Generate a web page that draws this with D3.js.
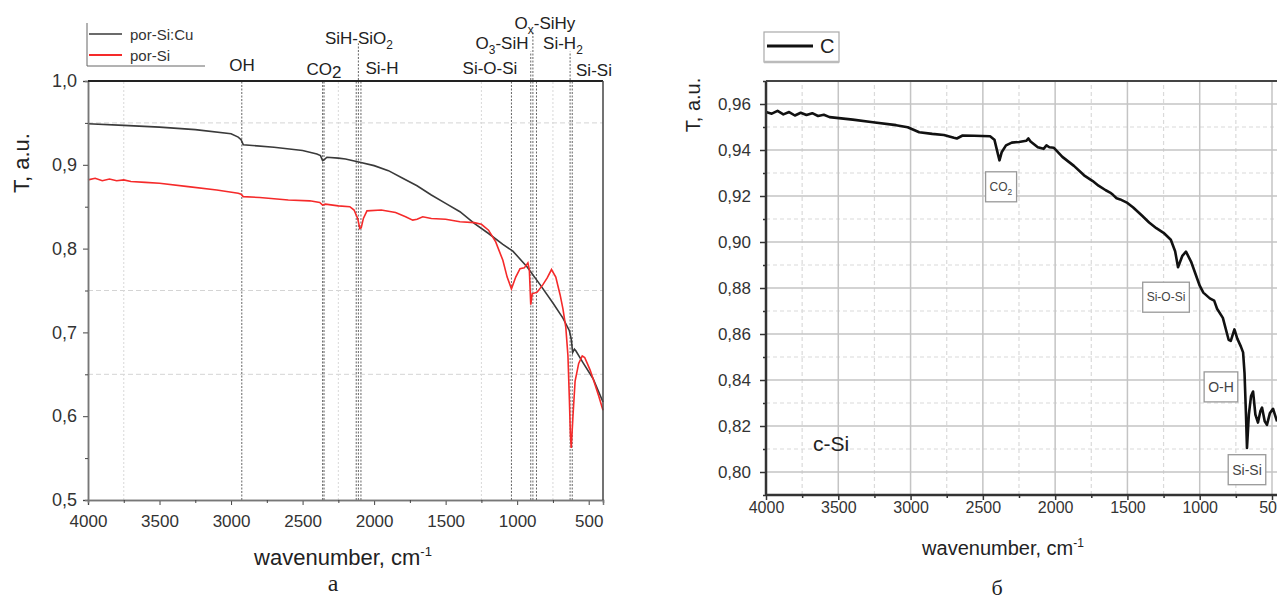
<!DOCTYPE html>
<html>
<head>
<meta charset="utf-8">
<script src="https://cdn.jsdelivr.net/npm/d3@7"></script>
<style>
  body { margin: 0; background: #fff; }
  svg { display: block; font-family: "Liberation Sans", Arial, sans-serif; }
  .tick text { fill: #333; }
</style>
</head>
<body>
<svg id="chart" width="1277" height="601"></svg>
<script>
// ---- panel a : por-Si:Cu / por-Si ----
var cuWave = [4000, 3750, 3500, 3250, 3000, 2950, 2930, 2915, 2850, 2700, 2500, 2400, 2375, 2360, 2350, 2330, 2250, 2200, 2100, 2000, 1900, 1800, 1700, 1600, 1500, 1400, 1300, 1200, 1100, 1030, 930, 840, 750, 680, 635, 622, 612, 600, 590, 540, 470, 400];
var cuT = [0.949, 0.947, 0.945, 0.942, 0.937, 0.933, 0.930, 0.924, 0.923, 0.921, 0.917, 0.913, 0.911, 0.905, 0.906, 0.909, 0.908, 0.907, 0.903, 0.899, 0.893, 0.884, 0.875, 0.864, 0.854, 0.844, 0.830, 0.818, 0.805, 0.797, 0.778, 0.757, 0.735, 0.717, 0.702, 0.692, 0.676, 0.680, 0.678, 0.664, 0.645, 0.617];

var siWave = [4000, 3950, 3900, 3850, 3800, 3750, 3700, 3600, 3500, 3300, 3100, 2950, 2930, 2915, 2800, 2600, 2450, 2380, 2360, 2340, 2250, 2170, 2140, 2115, 2100, 2090, 2075, 2050, 1950, 1850, 1780, 1730, 1700, 1660, 1600, 1500, 1400, 1300, 1250, 1200, 1150, 1100, 1070, 1040, 1010, 980, 950, 925, 915, 905, 895, 860, 820, 790, 760, 730, 700, 680, 660, 645, 635, 628, 622, 610, 595, 570, 545, 528, 510, 490, 460, 430, 400];
var siT = [0.882, 0.884, 0.881, 0.883, 0.881, 0.882, 0.880, 0.879, 0.878, 0.874, 0.870, 0.866, 0.865, 0.862, 0.861, 0.858, 0.857, 0.855, 0.852, 0.853, 0.851, 0.850, 0.846, 0.836, 0.824, 0.825, 0.836, 0.845, 0.846, 0.843, 0.838, 0.834, 0.835, 0.838, 0.836, 0.835, 0.832, 0.831, 0.829, 0.822, 0.808, 0.786, 0.766, 0.752, 0.766, 0.776, 0.777, 0.783, 0.775, 0.733, 0.746, 0.748, 0.757, 0.765, 0.775, 0.766, 0.745, 0.728, 0.706, 0.672, 0.620, 0.578, 0.562, 0.600, 0.642, 0.663, 0.672, 0.670, 0.663, 0.655, 0.640, 0.624, 0.607];

var aTicksY = [0.5, 0.6, 0.7, 0.8, 0.9, 1.0];
var aMinorY = [0.55, 0.65, 0.75, 0.85, 0.95];
var aTicksX = [4000, 3500, 3000, 2500, 2000, 1500, 1000, 500];
var aMinorX = [3750, 3250, 2750, 2250, 1750, 1250, 750];
var aGridY = [0.95, 0.75, 0.65];
var aGridX = [3750, 2250, 1250, 750];
var aPeaks = [2925, 2360, 2350, 2125, 2110, 2092, 1040, 905, 890, 865, 630, 615];
var aPeakTop = [1.0, 1.0, 1.0, 1.0, 1.045, 1.0, 1.0, 1.035, 1.06, 1.0, 1.035, 1.0];
var aLabels = [
  {parts: [["OH"]], w: 2924, v: 1.019},
  {parts: [["CO"], ["2", "drop"]], w: 2350, v: 1.014},
  {parts: [["SiH-SiO"], ["2", "sub"]], w: 2106, v: 1.051},
  {parts: [["Si-H"]], w: 1945, v: 1.016},
  {parts: [["O"], ["3", "sub"], ["-SiH"]], w: 1106, v: 1.045},
  {parts: [["Si-O-Si"]], w: 1190, v: 1.016},
  {parts: [["O"], ["x", "sub"], ["-SiHy"]], w: 806, v: 1.069},
  {parts: [["Si-H"], ["2", "sub"]], w: 680, v: 1.045},
  {parts: [["Si-Si"]], w: 463, v: 1.013}
];

// ---- panel б : c-Si ----
var cWave = [4000, 3960, 3920, 3880, 3840, 3800, 3760, 3720, 3680, 3640, 3600, 3560, 3400, 3260, 3100, 3020, 2940, 2850, 2770, 2700, 2680, 2640, 2560, 2450, 2420, 2395, 2385, 2370, 2340, 2300, 2250, 2200, 2185, 2170, 2120, 2080, 2060, 2040, 2010, 1950, 1870, 1800, 1740, 1700, 1650, 1620, 1600, 1575, 1550, 1500, 1460, 1400, 1350, 1300, 1250, 1200, 1170, 1150, 1120, 1095, 1060, 1000, 975, 930, 900, 880, 840, 800, 785, 760, 740, 715, 700, 690, 680, 673, 660, 645, 631, 615, 597, 580, 569, 550, 535, 515, 493, 465];
var cT = [0.9565, 0.9558, 0.9570, 0.9555, 0.9565, 0.9550, 0.9562, 0.9552, 0.9560, 0.9548, 0.9553, 0.9543, 0.9532, 0.9521, 0.9508, 0.9499, 0.9477, 0.9470, 0.9465, 0.9453, 0.9450, 0.9463, 0.9462, 0.9460, 0.9445, 0.9380, 0.9355, 0.9390, 0.9420, 0.9432, 0.9435, 0.9440, 0.9450, 0.9437, 0.9412, 0.9405, 0.9420, 0.9412, 0.9410, 0.9370, 0.9331, 0.9290, 0.9265, 0.9245, 0.9225, 0.9215, 0.9205, 0.9190, 0.9185, 0.9170, 0.9150, 0.9115, 0.9085, 0.9060, 0.9040, 0.9010, 0.8960, 0.8890, 0.8940, 0.8958, 0.8915, 0.8810, 0.8780, 0.8755, 0.8745, 0.8710, 0.8670, 0.8575, 0.8570, 0.8620, 0.8580, 0.8545, 0.8520, 0.8430, 0.8250, 0.8105, 0.8250, 0.8330, 0.8350, 0.8250, 0.8215, 0.8265, 0.8280, 0.8220, 0.8205, 0.8255, 0.8275, 0.8220];

var bTicksY = [0.80, 0.82, 0.84, 0.86, 0.88, 0.90, 0.92, 0.94, 0.96];
var bMinorY = [0.79, 0.81, 0.83, 0.85, 0.87, 0.89, 0.91, 0.93, 0.95, 0.97];
var bTicksX = [4000, 3500, 3000, 2500, 2000, 1500, 1000, 500];
var bMinorX = [3750, 3250, 2750, 2250, 1750, 1250, 750];
var bBoxes = [
  {parts: [["CO"], ["2", "sub"]], w: 2375, v: 0.9240, size: 12},
  {parts: [["Si-O-Si"]], w: 1233, v: 0.8760, size: 12},
  {parts: [["O-H"]], w: 853, v: 0.8370, size: 14},
  {parts: [["Si-Si"]], w: 673, v: 0.8010, size: 14}
];

var svg = d3.select("#chart");
var loc = d3.formatLocale({decimal: ",", thousands: "", grouping: [3], currency: ["", ""]});

// text made of parts; a part may be a subscript ("sub") or a slightly dropped digit ("drop")
function addText(g, parts, size) {
  var t = g.append("text").attr("font-size", size);
  var shift = 0;
  parts.forEach(function(p){
    var s = t.append("tspan").text(p[0]);
    var want = p[1] == "sub" ? size * 0.3 : p[1] == "drop" ? size * 0.18 : 0;
    if (want != shift) s.attr("dy", want - shift);
    shift = want;
    if (p[1] == "sub") s.attr("font-size", size * 0.7);
  });
  return t;
}

// ===================== panel a =====================
var xA = d3.scaleLinear().domain([4000, 400]).range([88, 603]);
var yA = d3.scaleLinear().domain([0.5, 1.0]).range([500, 81]);
var gA = svg.append("g");

// faint grid
gA.selectAll(".gy").data(aGridY).enter().append("line")
  .attr("x1", xA(4000)).attr("x2", xA(400))
  .attr("y1", d => yA(d)).attr("y2", d => yA(d))
  .attr("stroke", "#d4d4d4").attr("stroke-dasharray", "5,3").attr("stroke-width", 1);
gA.selectAll(".gx").data(aGridX).enter().append("line")
  .attr("x1", d => xA(d)).attr("x2", d => xA(d))
  .attr("y1", yA(0.5)).attr("y2", yA(1.0))
  .attr("stroke", "#d8d8d8").attr("stroke-dasharray", "2,2").attr("stroke-width", 1);

// peak markers
gA.selectAll(".pk").data(aPeaks).enter().append("line")
  .attr("x1", d => xA(d)).attr("x2", d => xA(d))
  .attr("y1", yA(0.5)).attr("y2", (d, i) => yA(aPeakTop[i]))
  .attr("stroke", "#555").attr("stroke-dasharray", "2,1.5").attr("stroke-width", 0.9);

// curves
var lineA = d3.line().x(d => xA(d[0])).y(d => yA(d[1]));
gA.append("path").datum(cuWave.map((w, i) => [w, cuT[i]]))
  .attr("d", lineA).attr("fill", "none").attr("stroke", "#3a3a3a").attr("stroke-width", 1.6);
gA.append("path").datum(siWave.map((w, i) => [w, siT[i]]))
  .attr("d", lineA).attr("fill", "none").attr("stroke", "#f52a2a").attr("stroke-width", 1.6);

// axes
var axA_y = gA.append("g").attr("transform", "translate(" + xA(4000) + ",0)")
  .call(d3.axisLeft(yA).tickValues(aTicksY).tickFormat(loc.format(".1f")).tickSize(5).tickPadding(6));
gA.append("g").attr("transform", "translate(" + xA(4000) + ",0)")
  .call(d3.axisLeft(yA).tickValues(aMinorY).tickFormat("").tickSize(3));
var axA_x = gA.append("g").attr("transform", "translate(0," + yA(0.5) + ")")
  .call(d3.axisBottom(xA).tickValues(aTicksX).tickFormat(d3.format("d")).tickSize(5).tickPadding(10));
gA.append("g").attr("transform", "translate(0," + yA(0.5) + ")")
  .call(d3.axisBottom(xA).tickValues(aMinorX).tickFormat("").tickSize(3));
gA.selectAll(".domain").attr("stroke", "#777").attr("stroke-width", 1.5);
gA.selectAll(".tick line").attr("stroke", "#444");
axA_y.selectAll("text").attr("font-size", 18);
axA_x.selectAll("text").attr("font-size", 17);

// frame top / right
gA.append("line").attr("x1", xA(4000)).attr("x2", xA(400)).attr("y1", yA(1.0)).attr("y2", yA(1.0))
  .attr("stroke", "#222").attr("stroke-width", 2.2);
gA.append("line").attr("x1", xA(400)).attr("x2", xA(400)).attr("y1", yA(1.0)).attr("y2", yA(0.5))
  .attr("stroke", "#444").attr("stroke-width", 1.5);

// labels above peaks
aLabels.forEach(function(l){
  addText(gA, l.parts, 17).attr("x", xA(l.w)).attr("y", yA(l.v) + 6)
    .attr("text-anchor", "middle").attr("fill", "#222");
});

// legend
gA.append("path").attr("d", "M87,23 V66 H205").attr("fill", "none").attr("stroke", "#666").attr("stroke-width", 1);
gA.append("line").attr("x1", 89).attr("x2", 122).attr("y1", 34).attr("y2", 34).attr("stroke", "#3a3a3a").attr("stroke-width", 1.6);
gA.append("line").attr("x1", 89).attr("x2", 122).attr("y1", 55).attr("y2", 55).attr("stroke", "#f52a2a").attr("stroke-width", 1.8);
gA.append("text").attr("x", 130).attr("y", 40).attr("font-size", 15).attr("fill", "#333").text("por-Si:Cu");
gA.append("text").attr("x", 130).attr("y", 61).attr("font-size", 15).attr("fill", "#333").text("por-Si");

// axis titles
gA.append("text").attr("transform", "translate(29,163) rotate(-90)").attr("text-anchor", "middle")
  .attr("font-size", 22).attr("fill", "#222").text("T, a.u.");
var tA = gA.append("text").attr("x", 343).attr("y", 565).attr("text-anchor", "middle").attr("font-size", 22).attr("fill", "#222");
tA.append("tspan").text("wavenumber, cm");
tA.append("tspan").attr("font-size", 13).attr("dy", -9).text("-1");
gA.append("text").attr("x", 333).attr("y", 591).attr("text-anchor", "middle")
  .attr("font-family", "'Liberation Serif', 'DejaVu Serif', serif").attr("font-size", 24).attr("fill", "#222").text("а");

// ===================== panel б =====================
var xB = d3.scaleLinear().domain([4000, 500]).range([766, 1272]);
var yB = d3.scaleLinear().domain([0.79, 0.97]).range([495, 81]);
var gB = svg.append("g");

// grid: minor dashed, major solid
gB.selectAll(".gmy").data(bMinorY.slice(1, -1)).enter().append("line")
  .attr("x1", xB(4000)).attr("x2", 1277).attr("y1", d => yB(d)).attr("y2", d => yB(d))
  .attr("stroke", "#dadada").attr("stroke-dasharray", "4,3").attr("stroke-width", 1.2);
gB.selectAll(".gmx").data(bMinorX).enter().append("line")
  .attr("x1", d => xB(d)).attr("x2", d => xB(d)).attr("y1", yB(0.79)).attr("y2", yB(0.97))
  .attr("stroke", "#dadada").attr("stroke-dasharray", "4,3").attr("stroke-width", 1.2);
gB.selectAll(".gy").data(bTicksY).enter().append("line")
  .attr("x1", xB(4000)).attr("x2", 1277).attr("y1", d => yB(d)).attr("y2", d => yB(d))
  .attr("stroke", "#c4c4c4").attr("stroke-width", 1.5);
gB.selectAll(".gx").data(bTicksX.slice(1)).enter().append("line")
  .attr("x1", d => xB(d)).attr("x2", d => xB(d)).attr("y1", yB(0.79)).attr("y2", yB(0.97))
  .attr("stroke", "#c4c4c4").attr("stroke-width", 1.5);

// curve
var lineB = d3.line().x(d => xB(d[0])).y(d => yB(d[1]));
gB.append("path").datum(cWave.map((w, i) => [w, cT[i]]))
  .attr("d", lineB).attr("fill", "none").attr("stroke", "#111").attr("stroke-width", 2.6)
  .attr("stroke-linejoin", "round");

// axes
var axB_y = gB.append("g").attr("transform", "translate(" + xB(4000) + ",0)")
  .call(d3.axisLeft(yB).tickValues(bTicksY).tickFormat(loc.format(".2f")).tickSize(6).tickPadding(9));
gB.append("g").attr("transform", "translate(" + xB(4000) + ",0)")
  .call(d3.axisLeft(yB).tickValues(bMinorY).tickFormat("").tickSize(3));
var axB_x = gB.append("g").attr("transform", "translate(0," + yB(0.79) + ")")
  .call(d3.axisBottom(xB).tickValues(bTicksX).tickFormat(d3.format("d")).tickSize(5).tickPadding(2));
gB.append("g").attr("transform", "translate(0," + yB(0.79) + ")")
  .call(d3.axisBottom(xB).tickValues(bMinorX).tickFormat("").tickSize(3));
gB.selectAll(".domain").remove();
gB.selectAll(".tick line").attr("stroke", "#333").attr("stroke-width", 1.5);
axB_y.selectAll("text").attr("font-size", 17);
axB_x.selectAll("text").attr("font-size", 16);
// axis lines + top frame
gB.append("line").attr("x1", xB(4000)).attr("x2", xB(4000)).attr("y1", yB(0.97)).attr("y2", yB(0.79))
  .attr("stroke", "#333").attr("stroke-width", 2.5);
gB.append("line").attr("x1", xB(4000)).attr("x2", 1277).attr("y1", yB(0.79)).attr("y2", yB(0.79))
  .attr("stroke", "#333").attr("stroke-width", 2.5);
gB.append("line").attr("x1", xB(4000)).attr("x2", 1277).attr("y1", yB(0.97)).attr("y2", yB(0.97))
  .attr("stroke", "#444").attr("stroke-width", 1.8);

// boxed peak labels
bBoxes.forEach(function(b){
  var cx = xB(b.w), cy = yB(b.v);
  var g = gB.append("g");
  var box = g.append("rect");
  var t = addText(g, b.parts, b.size).attr("x", cx).attr("y", cy + b.size * 0.35)
    .attr("text-anchor", "middle").attr("fill", "#444");
  var bb = t.node().getBBox();
  box.attr("x", bb.x - 4).attr("y", cy - 15).attr("width", bb.width + 8).attr("height", 30)
    .attr("fill", "#fff").attr("stroke", "#999").attr("stroke-width", 1.3);
});
gB.append("text").attr("x", 813).attr("y", 451).attr("font-size", 21).attr("fill", "#222").text("c-Si");

// legend
gB.append("rect").attr("x", 764).attr("y", 32).attr("width", 75).attr("height", 30)
  .attr("fill", "#fff").attr("stroke", "#aaa").attr("stroke-width", 1.2);
gB.append("line").attr("x1", 764).attr("x2", 839).attr("y1", 62).attr("y2", 62).attr("stroke", "#bbb").attr("stroke-width", 2.5);
gB.append("line").attr("x1", 767).attr("x2", 813).attr("y1", 46).attr("y2", 46).attr("stroke", "#111").attr("stroke-width", 3);
gB.append("text").attr("x", 820).attr("y", 53).attr("font-size", 20).attr("fill", "#222").text("C");

// axis titles
gB.append("text").attr("transform", "translate(700,105) rotate(-90)").attr("text-anchor", "middle")
  .attr("font-size", 20).attr("fill", "#222").text("T, a.u.");
var tB = gB.append("text").attr("x", 1003).attr("y", 555).attr("text-anchor", "middle").attr("font-size", 20).attr("fill", "#222");
tB.append("tspan").text("wavenumber, cm");
tB.append("tspan").attr("font-size", 12).attr("dy", -8).text("-1");
gB.append("text").attr("x", 997).attr("y", 595).attr("text-anchor", "middle")
  .attr("font-family", "'Liberation Serif', 'DejaVu Serif', serif").attr("font-size", 22).attr("fill", "#222").text("б");
</script>
</body>
</html>
